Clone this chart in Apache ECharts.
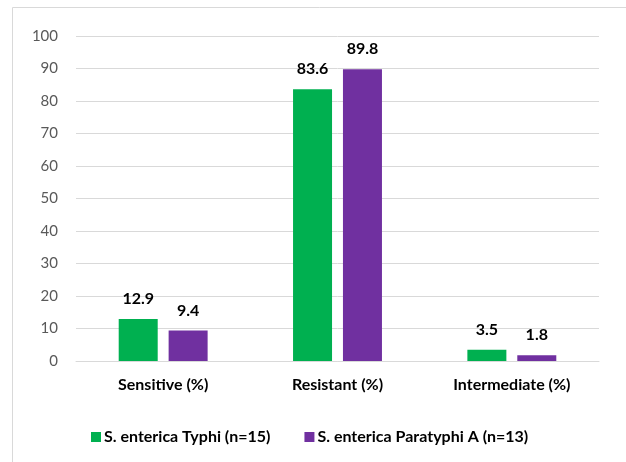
<!DOCTYPE html>
<html>
<head>
<meta charset="utf-8">
<script src="https://cdn.jsdelivr.net/npm/echarts@6/dist/echarts.min.js"></script>
<style>
  html, body { margin: 0; padding: 0; background: #fff; }
  #chart { width: 626px; height: 462px; }
</style>
</head>
<body>
<div id="chart"></div>
<script>
const categories = ['Sensitive (%)', 'Resistant (%)', 'Intermediate (%)'];
const typhiName = 'S. enterica Typhi (n=15)';
const paraName = 'S. enterica Paratyphi A (n=13)';
const typhiValues = [12.9, 83.6, 3.5];
const paraValues = [9.4, 89.8, 1.8];

const font = 'Lato, "Open Sans", sans-serif';
const chart = echarts.init(document.getElementById('chart'));

const labelStyle = {
  show: true,
  position: 'top',
  distance: 12,
  color: '#000',
  fontWeight: 'bold',
  fontSize: 16,
  fontFamily: font
};

chart.setOption({
  animation: false,
  graphic: [{
    type: 'rect',
    shape: { x: 12.5, y: 7.5, width: 700, height: 600 },
    style: { fill: 'none', stroke: '#d9d9d9', lineWidth: 1 },
    silent: true
  }],
  grid: { left: 76, right: 27, top: 36, bottom: 101 },
  legend: {
    left: 86,
    top: 424,
    itemWidth: 10,
    itemHeight: 10,
    itemGap: 34,
    icon: 'rect',
    textStyle: { color: '#000', fontWeight: 'bold', fontSize: 16, fontFamily: font, padding: [0, 0, 0, -2] },
    data: [typhiName, paraName]
  },
  xAxis: {
    type: 'category',
    data: categories,
    axisLine: { show: true, lineStyle: { color: '#d9d9d9', width: 1 } },
    axisTick: { show: false },
    axisLabel: { color: '#000', fontWeight: 'bold', fontSize: 16, fontFamily: font, margin: 16 }
  },
  yAxis: {
    type: 'value',
    min: 0,
    max: 100,
    interval: 10,
    axisLine: { show: false },
    axisTick: { show: false },
    splitLine: { lineStyle: { color: '#d9d9d9', width: 1 } },
    axisLabel: { color: '#595959', fontSize: 15, fontFamily: font, margin: 18 }
  },
  series: [
    {
      name: typhiName,
      type: 'bar',
      data: typhiValues,
      barWidth: 39,
      barGap: '28%',
      itemStyle: { color: '#00b050' },
      label: labelStyle
    },
    {
      name: paraName,
      type: 'bar',
      data: paraValues,
      barWidth: 39,
      barGap: '28%',
      itemStyle: { color: '#7030a0' },
      label: labelStyle
    }
  ]
});
</script>
</body>
</html>
